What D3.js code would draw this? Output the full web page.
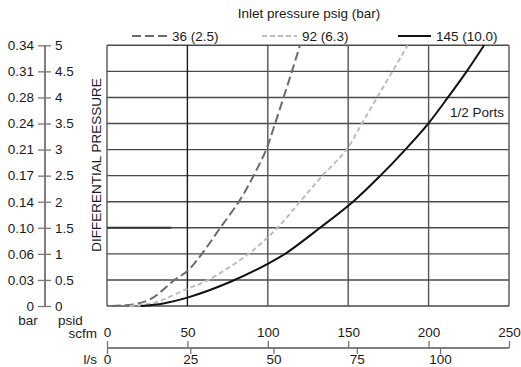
<!DOCTYPE html>
<html>
<head>
<meta charset="utf-8">
<script src="https://cdn.jsdelivr.net/npm/d3@7"></script>
<style>
  html, body { margin: 0; padding: 0; background: #fff; }
  svg { display: block; }
  text { font-family: "Liberation Sans", Arial, Helvetica, sans-serif; font-size: 13.5px; fill: #1a1a1a; }
</style>
</head>
<body>
<svg id="chart" width="521" height="367"></svg>
<script>
// Flow (scfm) vs differential pressure (psid) for 1/2 ports at three inlet pressures
const flow36 = [3, 16, 27, 42, 50, 59, 70, 83, 92, 99, 104, 109.5, 115, 120];
const dp36   = [0, 0.03, 0.13, 0.5, 0.67, 1.0, 1.48, 2.05, 2.55, 3.0, 3.45, 3.97, 4.5, 5.0];

const flow92 = [14, 30, 50, 63, 88, 106, 120, 134, 149, 158.5, 168, 177.5, 187];
const dp92   = [0, 0.07, 0.33, 0.5, 1.0, 1.5, 2.0, 2.5, 3.0, 3.5, 4.0, 4.5, 5.0];

const flow145 = [21, 35, 50, 76.5, 100, 111.7, 132.5, 153, 170, 185.5, 199.8, 212, 223.7, 234.5];
const dp145   = [0, 0.05, 0.16, 0.46, 0.81, 1.02, 1.5, 2.0, 2.5, 3.0, 3.5, 4.0, 4.5, 5.0];

const seriesNames = ["36 (2.5)", "92 (6.3)", "145 (10.0)"];

// Axis tick labels
const psidTicks = [0, 0.5, 1, 1.5, 2, 2.5, 3, 3.5, 4, 4.5, 5];
const psidLabels = ["0", "0.5", "1", "1.5", "2", "2.5", "3", "3.5", "4", "4.5", "5"];
const barLabels = ["0", "0.03", "0.06", "0.10", "0.14", "0.17", "0.21", "0.24", "0.28", "0.31", "0.34"];
const scfmTicks = [0, 50, 100, 150, 200, 250];
const lpsTicks = [0, 25, 50, 75, 100];

const svg = d3.select("#chart");

const plotLeft = 107, plotRight = 509, plotTop = 45.3, plotBottom = 306;
const x = d3.scaleLinear().domain([0, 250]).range([plotLeft, plotRight]);
const y = d3.scaleLinear().domain([0, 5]).range([plotBottom, plotTop]);
const xLps = d3.scaleLinear().domain([0, 120.7]).range([plotLeft, plotRight]);

// Grid
const grid = svg.append("g");
grid.selectAll("line.h").data(psidTicks).join("line")
  .attr("class", "h")
  .attr("x1", plotLeft).attr("x2", plotRight)
  .attr("y1", d => y(d)).attr("y2", d => y(d))
  .attr("stroke", "#4a4a4a").attr("stroke-width", 1.4);
grid.selectAll("line.v").data(scfmTicks).join("line")
  .attr("class", "v")
  .attr("x1", d => x(d)).attr("x2", d => x(d))
  .attr("y1", plotTop).attr("y2", plotBottom)
  .attr("stroke", (d, i) => i === 1 ? "#1a1a1a" : "#555").attr("stroke-width", 1.4);

// darker segment on the 1.5 psid line
svg.append("line")
  .attr("x1", x(0)).attr("x2", x(40))
  .attr("y1", y(1.5)).attr("y2", y(1.5))
  .attr("stroke", "#333").attr("stroke-width", 2);

// Curves
const line = d3.line().x(d => x(d[0])).y(d => y(d[1])).curve(d3.curveCatmullRom.alpha(0.5));
const curves = [
  { pts: d3.zip(flow36, dp36), color: "#6b6b6b", dash: "9,4" },
  { pts: d3.zip(flow92, dp92), color: "#bdbdbd", dash: "5,3" },
  { pts: d3.zip(flow145, dp145), color: "#111", dash: null }
];
svg.append("g").selectAll("path").data(curves).join("path")
  .attr("d", d => line(d.pts))
  .attr("fill", "none")
  .attr("stroke", d => d.color)
  .attr("stroke-width", 2)
  .attr("stroke-dasharray", d => d.dash);

// Left dual axis (bar | psid)
const yAxisX = 45;
const barAxis = svg.append("g").attr("transform", `translate(${yAxisX},0)`)
  .call(d3.axisLeft(y).tickValues(psidTicks).tickSize(7).tickPadding(4)
    .tickFormat((d, i) => barLabels[i]));
const psidAxis = svg.append("g").attr("transform", `translate(${yAxisX},0)`)
  .call(d3.axisRight(y).tickValues(psidTicks).tickSize(6).tickPadding(4)
    .tickFormat((d, i) => psidLabels[i]));
[barAxis, psidAxis].forEach(g => {
  g.select(".domain").attr("stroke", "#777").attr("stroke-width", 1.5).attr("d", `M0,${plotTop}V${plotBottom}`);
  g.selectAll(".tick line").attr("stroke", "#777").attr("stroke-width", 1.3);
  g.selectAll("text").attr("font-size", 13.5).attr("font-family", null).attr("fill", "#1a1a1a");
});
svg.append("text").attr("x", 28).attr("y", 324.5).attr("text-anchor", "middle").text("bar");
svg.append("text").attr("x", 58).attr("y", 324.5).text("psid");

svg.append("text")
  .attr("transform", `translate(100.5,165) rotate(-90)`)
  .attr("text-anchor", "middle")
  .text("DIFFERENTIAL PRESSURE");

// Bottom dual axis (scfm | l/s)
const xAxisY = 348;
const scfmAxis = svg.append("g").attr("transform", `translate(0,${xAxisY})`)
  .call(d3.axisTop(x).tickValues(scfmTicks).tickSize(7).tickPadding(4));
const lpsAxis = svg.append("g").attr("transform", `translate(0,${xAxisY})`)
  .call(d3.axisBottom(xLps).tickValues(lpsTicks).tickSize(6).tickPadding(0));
[scfmAxis, lpsAxis].forEach(g => {
  g.select(".domain").attr("stroke", "#777").attr("stroke-width", 1.5).attr("d", `M${plotLeft},0H${plotRight}`);
  g.selectAll(".tick line").attr("stroke", "#777").attr("stroke-width", 1.3);
  g.selectAll("text").attr("font-size", 13.5).attr("font-family", null).attr("fill", "#1a1a1a");
});
svg.append("text").attr("x", 97).attr("y", 338).attr("text-anchor", "end").text("scfm");
svg.append("text").attr("x", 97).attr("y", 363.5).attr("text-anchor", "end").text("l/s");

// Legend
svg.append("text").attr("x", 309).attr("y", 18).attr("text-anchor", "middle").text("Inlet pressure psig (bar)");
const legendItems = [
  { x1: 132, x2: 167, tx: 172 },
  { x1: 262, x2: 297, tx: 302 },
  { x1: 398, x2: 431, tx: 436 }
];
legendItems.forEach((it, i) => {
  svg.append("line").attr("x1", it.x1).attr("x2", it.x2).attr("y1", 36).attr("y2", 36)
    .attr("stroke", curves[i].color).attr("stroke-width", 2)
    .attr("stroke-dasharray", curves[i].dash);
  svg.append("text").attr("x", it.tx).attr("y", 41).text(seriesNames[i]);
});

svg.append("text").attr("x", 450).attr("y", 117).text("1/2 Ports");
</script>
</body>
</html>
